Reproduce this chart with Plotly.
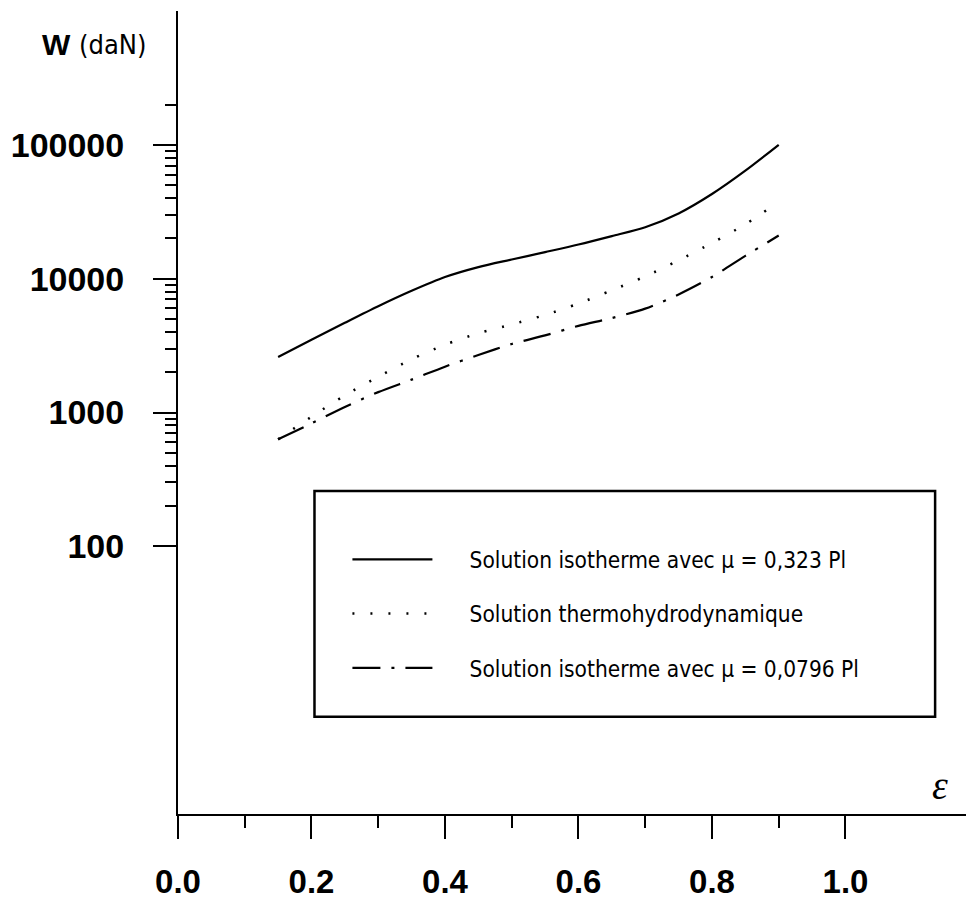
import plotly.graph_objects as go

# Eccentricity values and computed load capacity W (daN)
eps = [0.15, 0.20, 0.25, 0.30, 0.35, 0.40, 0.45, 0.50, 0.55,
       0.60, 0.65, 0.70, 0.75, 0.80, 0.85, 0.90]
w_iso_0323 = [2600, 3500, 4680, 6220, 8110, 10280, 12200, 13900, 15800,
              18000, 20800, 24200, 30700, 42900, 64100, 100000]
w_thd = [630, 930, 1340, 1850, 2500, 3210, 3910, 4550, 5360,
         6520, 8190, 10400, 13700, 18500, 25500, 37600]
w_iso_0796 = [630, 830, 1100, 1420, 1760, 2200, 2690, 3250, 3770,
              4440, 5080, 5970, 7620, 10300, 14800, 21000]

series_names = [
    "Solution isotherme avec µ = 0,323 Pl",
    "Solution thermohydrodynamique",
    "Solution isotherme avec µ = 0,0796 Pl",
]

x_tick_vals = [0.0, 0.2, 0.4, 0.6, 0.8, 1.0]
x_tick_text = ["0.0", "0.2", "0.4", "0.6", "0.8", "1.0"]
x_minor_vals = [0.1, 0.3, 0.5, 0.7, 0.9]

y_tick_vals = [100, 1000, 10000, 100000]
y_tick_text = ["100", "1000", "10000", "100000"]
y_minor_vals = [m * 10 ** e for e in (2, 3, 4) for m in range(2, 10)] + [200000]

NARROW = "DejaVu Sans Condensed"
SANS = "Liberation Sans"

fig = go.Figure()
styles = [
    dict(color="black", width=2.2, dash="solid"),
    dict(color="black", width=2.5, dash="2px,16px"),
    dict(color="black", width=2.2, dash="28px,11px,3px,11px"),
]
for i, (name, ys, st) in enumerate(zip(series_names, [w_iso_0323, w_thd, w_iso_0796], styles)):
    fig.add_trace(go.Scatter(
        x=eps, y=ys, mode="lines", name="\u00a0" * 5 + name,
        line=dict(shape="spline", smoothing=0.8, **st),
        legendgroup=f"g{i}",
    ))

fig.update_layout(
    width=977, height=911,
    margin=dict(l=175, r=11, t=11, b=82),
    paper_bgcolor="white", plot_bgcolor="white",
    showlegend=True,
    legend=dict(
        x=0.215, y=0.3435, xanchor="left", yanchor="top",
        bgcolor="rgba(0,0,0,0)", borderwidth=0,
        font=dict(family=NARROW, size=22.5, color="black"),
        itemwidth=80, tracegroupgap=22, traceorder="grouped",
    ),
    xaxis=dict(
        range=[0, 1.1806], showgrid=False, zeroline=False,
        showline=True, linecolor="black", linewidth=2,
        ticks="outside", ticklen=23, tickwidth=1.5, tickcolor="black",
        tickvals=x_tick_vals, ticktext=x_tick_text,
        tickfont=dict(family=SANS, size=33, color="black", weight="bold"),
        ticklabelstandoff=14,
        minor=dict(tickvals=x_minor_vals, ticks="outside", ticklen=12,
                   tickwidth=1.5, tickcolor="black", showgrid=False),
    ),
    yaxis=dict(
        type="log", range=[0, 6], showgrid=False, zeroline=False,
        showline=True, linecolor="black", linewidth=2,
        ticks="outside", ticklen=23, tickwidth=1.5, tickcolor="black",
        tickvals=y_tick_vals, ticktext=y_tick_text,
        tickfont=dict(family=SANS, size=34, color="black", weight="bold"),
        ticklabelstandoff=22,
        minor=dict(tickvals=y_minor_vals, ticks="outside", ticklen=11,
                   tickwidth=1.5, tickcolor="black", showgrid=False),
    ),
    shapes=[dict(
        type="rect", xref="paper", yref="paper",
        x0=0.1732, x1=0.9608, y0=0.1210, y1=0.4022,
        line=dict(color="black", width=2.5), fillcolor="rgba(0,0,0,0)",
    )],
    annotations=[
        dict(xref="paper", yref="paper", x=0, y=0.958, xanchor="right", yanchor="middle",
             xshift=-105, showarrow=False, text="<b>W</b>",
             font=dict(family=SANS, size=30, color="black")),
        dict(xref="paper", yref="paper", x=0, y=0.958, xanchor="right", yanchor="middle",
             xshift=-30, showarrow=False, text="(daN)",
             font=dict(family=NARROW, size=27, color="black")),
        dict(xref="paper", yref="paper", x=1, y=0, xanchor="right", yanchor="bottom",
             xshift=-16, yshift=4, showarrow=False,
             text="<i>ε</i>",
             font=dict(family="Liberation Serif", size=40, color="black")),
    ],
)

fig.write_html("out.html")
